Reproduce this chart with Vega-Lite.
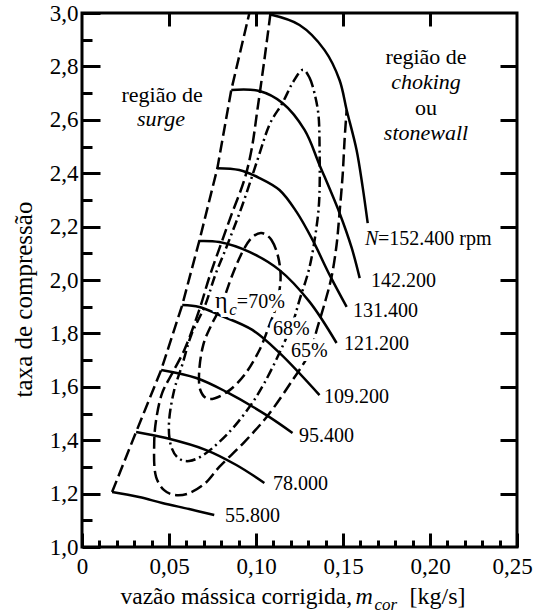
{
"$schema": "https://vega.github.io/schema/vega-lite/v6.json",
"width": 435, "height": 534,
"autosize": {"type": "none"},
"padding": {"left": 82, "top": 13, "right": 19, "bottom": 68},
"background": "white",
"config": {
  "view": {"stroke": "black", "strokeWidth": 3},
  "axis": {"grid": false, "domain": false, "tickColor": "black", "tickWidth": 3, "labelColor": "black", "titleColor": "black", "labelFont": "Liberation Serif", "titleFont": "Liberation Serif", "titleFontWeight": "normal", "labelFontSize": 23, "titleFontSize": 24, "labelOverlap": false, "labelFlush": false}
},
"datasets": {
  "speeds": [
    {"s":"55.800","i":0,"x":0.0173,"y":1.206},{"s":"55.800","i":1,"x":0.0328,"y":1.187},{"s":"55.800","i":2,"x":0.0461,"y":1.165},{"s":"55.800","i":3,"x":0.0616,"y":1.142},{"s":"55.800","i":4,"x":0.0760,"y":1.120},
    {"s":"78.000","i":0,"x":0.0311,"y":1.431},{"s":"78.000","i":1,"x":0.0484,"y":1.408},{"s":"78.000","i":2,"x":0.0714,"y":1.363},{"s":"78.000","i":3,"x":0.0887,"y":1.307},{"s":"78.000","i":4,"x":0.1048,"y":1.240},
    {"s":"95.400","i":0,"x":0.0455,"y":1.663},{"s":"95.400","i":1,"x":0.0657,"y":1.633},{"s":"95.400","i":2,"x":0.0830,"y":1.581},{"s":"95.400","i":3,"x":0.1060,"y":1.494},{"s":"95.400","i":4,"x":0.1210,"y":1.427},
    {"s":"109.200","i":0,"x":0.0576,"y":1.906},{"s":"109.200","i":1,"x":0.0674,"y":1.899},{"s":"109.200","i":2,"x":0.0789,"y":1.869},{"s":"109.200","i":3,"x":0.0979,"y":1.813},{"s":"109.200","i":4,"x":0.1135,"y":1.727},{"s":"109.200","i":5,"x":0.1365,"y":1.569},
    {"s":"121.200","i":0,"x":0.0674,"y":2.146},{"s":"121.200","i":1,"x":0.0789,"y":2.142},{"s":"121.200","i":2,"x":0.0962,"y":2.105},{"s":"121.200","i":3,"x":0.1135,"y":2.037},{"s":"121.200","i":4,"x":0.1308,"y":1.918},{"s":"121.200","i":5,"x":0.1463,"y":1.764},
    {"s":"131.400","i":0,"x":0.0778,"y":2.419},{"s":"131.400","i":1,"x":0.0904,"y":2.412},{"s":"131.400","i":2,"x":0.1020,"y":2.382},{"s":"131.400","i":3,"x":0.1135,"y":2.337},{"s":"131.400","i":4,"x":0.1233,"y":2.255},{"s":"131.400","i":5,"x":0.1325,"y":2.150},{"s":"131.400","i":6,"x":0.1423,"y":2.019},{"s":"131.400","i":7,"x":0.1521,"y":1.899},
    {"s":"142.200","i":0,"x":0.0858,"y":2.712},{"s":"142.200","i":1,"x":0.1020,"y":2.708},{"s":"142.200","i":2,"x":0.1152,"y":2.663},{"s":"142.200","i":3,"x":0.1279,"y":2.562},{"s":"142.200","i":4,"x":0.1365,"y":2.431},{"s":"142.200","i":5,"x":0.1480,"y":2.251},{"s":"142.200","i":6,"x":0.1550,"y":2.120},{"s":"142.200","i":7,"x":0.1596,"y":2.007},
    {"s":"152.400","i":0,"x":0.1077,"y":2.995},{"s":"152.400","i":1,"x":0.1250,"y":2.955},{"s":"152.400","i":2,"x":0.1394,"y":2.861},{"s":"152.400","i":3,"x":0.1480,"y":2.749},{"s":"152.400","i":4,"x":0.1521,"y":2.637},{"s":"152.400","i":5,"x":0.1578,"y":2.487},{"s":"152.400","i":6,"x":0.1613,"y":2.348},{"s":"152.400","i":7,"x":0.1642,"y":2.213}
  ],
  "surge": [
    {"i":0,"x":0.0173,"y":1.206},{"i":1,"x":0.0311,"y":1.431},{"i":2,"x":0.0455,"y":1.663},{"i":3,"x":0.0576,"y":1.906},{"i":4,"x":0.0674,"y":2.146},{"i":5,"x":0.0778,"y":2.419},{"i":6,"x":0.0858,"y":2.712},{"i":7,"x":0.0962,"y":3.0}
  ],
  "e65": [
    {"i":0,"x":0.1083,"y":2.998},{"i":1,"x":0.1048,"y":2.824},{"i":2,"x":0.1008,"y":2.637},{"i":3,"x":0.0974,"y":2.487},{"i":4,"x":0.0933,"y":2.375},{"i":5,"x":0.0858,"y":2.243},{"i":6,"x":0.0801,"y":2.139},{"i":7,"x":0.0732,"y":2.011},{"i":8,"x":0.0674,"y":1.888},{"i":9,"x":0.0588,"y":1.738},{"i":10,"x":0.0513,"y":1.644},{"i":11,"x":0.0461,"y":1.577},{"i":12,"x":0.0426,"y":1.476},{"i":13,"x":0.0415,"y":1.390},{"i":14,"x":0.0426,"y":1.262},{"i":15,"x":0.0472,"y":1.213},{"i":16,"x":0.0530,"y":1.195},{"i":17,"x":0.0605,"y":1.199},{"i":18,"x":0.0703,"y":1.236},{"i":19,"x":0.0789,"y":1.300},{"i":20,"x":0.0933,"y":1.393},{"i":21,"x":0.1066,"y":1.491},{"i":22,"x":0.1210,"y":1.625},{"i":23,"x":0.1308,"y":1.727},{"i":24,"x":0.1354,"y":1.824},{"i":25,"x":0.1400,"y":1.925},{"i":26,"x":0.1434,"y":2.011},{"i":27,"x":0.1463,"y":2.131},{"i":28,"x":0.1480,"y":2.251},{"i":29,"x":0.1498,"y":2.393},{"i":30,"x":0.1509,"y":2.524},{"i":31,"x":0.1521,"y":2.637}
  ],
  "e68": [
    {"i":0,"x":0.1267,"y":2.787},{"i":1,"x":0.1308,"y":2.757},{"i":2,"x":0.1336,"y":2.700},{"i":3,"x":0.1359,"y":2.618},{"i":4,"x":0.1365,"y":2.513},{"i":5,"x":0.1365,"y":2.326},{"i":6,"x":0.1348,"y":2.199},{"i":7,"x":0.1308,"y":2.049},{"i":8,"x":0.1250,"y":1.925},{"i":9,"x":0.1210,"y":1.839},{"i":10,"x":0.1135,"y":1.727},{"i":11,"x":0.1048,"y":1.614},{"i":12,"x":0.0962,"y":1.524},{"i":13,"x":0.0847,"y":1.431},{"i":14,"x":0.0714,"y":1.352},{"i":15,"x":0.0616,"y":1.322},{"i":16,"x":0.0547,"y":1.337},{"i":17,"x":0.0507,"y":1.390},{"i":18,"x":0.0501,"y":1.476},{"i":19,"x":0.0530,"y":1.588},{"i":20,"x":0.0576,"y":1.682},{"i":21,"x":0.0628,"y":1.794},{"i":22,"x":0.0708,"y":1.906},{"i":23,"x":0.0766,"y":2.019},{"i":24,"x":0.0835,"y":2.131},{"i":25,"x":0.0922,"y":2.281},{"i":26,"x":0.1008,"y":2.449},{"i":27,"x":0.1077,"y":2.581},{"i":28,"x":0.1152,"y":2.663},{"i":29,"x":0.1210,"y":2.738}
  ],
  "e70": [
    {"i":0,"x":0.1031,"y":2.176},{"i":1,"x":0.1089,"y":2.150},{"i":2,"x":0.1129,"y":2.082},{"i":3,"x":0.1141,"y":2.000},{"i":4,"x":0.1118,"y":1.906},{"i":5,"x":0.1077,"y":1.831},{"i":6,"x":0.1020,"y":1.738},{"i":7,"x":0.0933,"y":1.644},{"i":8,"x":0.0835,"y":1.581},{"i":9,"x":0.0732,"y":1.554},{"i":10,"x":0.0680,"y":1.588},{"i":11,"x":0.0674,"y":1.663},{"i":12,"x":0.0697,"y":1.757},{"i":13,"x":0.0743,"y":1.831},{"i":14,"x":0.0801,"y":1.906},{"i":15,"x":0.0864,"y":2.019},{"i":16,"x":0.0922,"y":2.105},{"i":17,"x":0.0974,"y":2.157}
  ],
  "labels": [
    {"t":"=152.400 rpm","x":0.1701,"y":2.131},
    {"t":"142.200","x":0.1661,"y":1.974},
    {"t":"131.400","x":0.1557,"y":1.861},
    {"t":"121.200","x":0.1506,"y":1.738},
    {"t":"109.200","x":0.1391,"y":1.539},
    {"t":"95.400","x":0.1247,"y":1.393},
    {"t":"78.000","x":0.1098,"y":1.213},
    {"t":"55.800","x":0.0822,"y":1.094},
    {"t":"68%","x":0.1098,"y":1.794},
    {"t":"65%","x":0.1201,"y":1.712},
    {"t":"=70%","x":0.0890,"y":1.895}
  ],
  "eta": [{"t":"η","x":0.0764,"y":1.895}],
  "labelsIt": [{"t":"N","x":0.1626,"y":2.131}],
  "sub": [{"t":"c","x":0.0846,"y":1.869}],
  "annot": [
    {"t":"região de","x":0.0460,"y":2.667},
    {"t":"região de","x":0.1977,"y":2.808},
    {"t":"ou","x":0.1977,"y":2.618}
  ],
  "annotIt": [
    {"t":"surge","x":0.0454,"y":2.578},
    {"t":"choking","x":0.1977,"y":2.716},
    {"t":"stonewall","x":0.1977,"y":2.524}
  ]
},
"layer": [
  {
    "data": {"name": "speeds"},
    "mark": {"type": "line", "interpolate": "catmull-rom", "color": "black", "strokeWidth": 2.5},
    "encoding": {
      "x": {"field": "x", "type": "quantitative", "scale": {"domain": [0, 0.25], "nice": false, "zero": false},
        "axis": {"orient": "bottom", "values": [0, 0.05, 0.1, 0.15, 0.2, 0.25], "tickSize": -14, "labelPadding": 22, "labelOffset": {"condition": {"test": "datum.value > 0.24", "value": -5}, "value": 0}, "labelExpr": "datum.value == 0 ? '0' : replace(format(datum.value, '.2f'), '.', ',')", "title": "vazão mássica corrigida,", "titleFontSize": 23.5, "titleX": 38, "titleY": 56, "titleAlign": "left", "titleBaseline": "alphabetic", "titleAngle": 0}},
      "y": {"field": "y", "type": "quantitative", "scale": {"domain": [1, 3], "nice": false, "zero": false},
        "axis": {"orient": "left", "values": [1, 1.2, 1.4, 1.6, 1.8, 2, 2.2, 2.4, 2.6, 2.8, 3], "tickSize": -18, "labelPadding": 22, "labelExpr": "replace(format(datum.value, '.1f'), '.', ',')", "title": "taxa de compressão", "titleFontSize": 25, "titleX": -51, "titleY": 286, "titleAngle": -90, "titleAlign": "center", "titleBaseline": "alphabetic"}},
      "detail": {"field": "s"},
      "order": {"field": "i"}
    }
  },
  {
    "data": {"name": "surge"},
    "mark": {"type": "line", "color": "black", "strokeWidth": 2.5, "strokeDash": [12, 5]},
    "encoding": {
      "x": {"field": "x", "type": "quantitative", "scale": {"domain": [0, 0.25], "nice": false, "zero": false},
        "axis": {"orient": "bottom", "values": [0.01,0.02,0.03,0.04,0.06,0.07,0.08,0.09,0.11,0.12,0.13,0.14,0.16,0.17,0.18,0.19,0.21,0.22,0.23,0.24], "tickSize": -7, "labels": false, "title": "m", "titleFontSize": 24, "titleFontStyle": "italic", "titleX": 273, "titleY": 56, "titleAlign": "left", "titleBaseline": "alphabetic", "titleAngle": 0}},
      "y": {"field": "y", "type": "quantitative", "scale": {"domain": [1, 3], "nice": false, "zero": false},
        "axis": {"orient": "left", "values": [1.1,1.3,1.5,1.7,1.9,2.1,2.3,2.5,2.7,2.9], "tickSize": -10, "labels": false, "title": null}},
      "order": {"field": "i"}
    }
  },
  {
    "data": {"name": "e65"},
    "mark": {"type": "line", "interpolate": "catmull-rom", "color": "black", "strokeWidth": 2.5, "strokeDash": [12, 5]},
    "encoding": {
      "x": {"field": "x", "type": "quantitative", "scale": {"domain": [0, 0.25], "nice": false, "zero": false},
        "axis": {"orient": "top", "values": [0.05, 0.1, 0.15, 0.2], "tickSize": -13, "labels": false, "title": null}},
      "y": {"field": "y", "type": "quantitative", "scale": {"domain": [1, 3], "nice": false, "zero": false},
        "axis": {"orient": "right", "values": [1.2,1.4,1.6,1.8,2,2.2,2.4,2.6,2.8], "tickSize": -17, "labels": false, "title": null}},
      "order": {"field": "i"}
    }
  },
  {
    "data": {"name": "e70"},
    "mark": {"type": "line", "interpolate": "cardinal-closed", "color": "black", "strokeWidth": 2.5, "strokeDash": [11, 5]},
    "encoding": {
      "x": {"field": "x", "type": "quantitative", "scale": {"domain": [0, 0.25], "nice": false, "zero": false},
        "axis": {"orient": "bottom", "ticks": false, "labels": false, "title": "cor", "titleFontStyle": "italic", "titleFontSize": 17, "titleX": 292, "titleY": 62, "titleAlign": "left", "titleBaseline": "alphabetic", "titleAngle": 0}},
      "y": {"field": "y", "type": "quantitative", "scale": {"domain": [1, 3], "nice": false, "zero": false}, "axis": null},
      "order": {"field": "i"}
    }
  },
  {
    "data": {"name": "e68"},
    "mark": {"type": "line", "interpolate": "cardinal-closed", "color": "black", "strokeWidth": 2.5, "strokeDash": [10, 4, 2, 4]},
    "encoding": {
      "x": {"field": "x", "type": "quantitative", "scale": {"domain": [0, 0.25], "nice": false, "zero": false},
        "axis": {"orient": "bottom", "ticks": false, "labels": false, "title": "[kg/s]", "titleFontSize": 24, "titleX": 327, "titleY": 56, "titleAlign": "left", "titleBaseline": "alphabetic", "titleAngle": 0}},
      "y": {"field": "y", "type": "quantitative", "scale": {"domain": [1, 3], "nice": false, "zero": false}, "axis": null},
      "order": {"field": "i"}
    }
  },
  {
    "data": {"name": "labels"},
    "transform": [{"filter": "indexof(['68%','65%','=70%'], datum.t) >= 0"}],
    "mark": {"type": "text", "align": "left", "baseline": "alphabetic", "fontSize": 20, "font": "Liberation Serif", "fill": "white", "stroke": "white", "strokeWidth": 8},
    "encoding": {
      "x": {"field": "x", "type": "quantitative", "axis": null},
      "y": {"field": "y", "type": "quantitative", "axis": null},
      "text": {"field": "t"}
    }
  },
  {
    "data": {"name": "eta"},
    "mark": {"type": "text", "align": "left", "baseline": "alphabetic", "fontSize": 24, "font": "Liberation Serif", "fill": "white", "stroke": "white", "strokeWidth": 8},
    "encoding": {
      "x": {"field": "x", "type": "quantitative", "axis": null},
      "y": {"field": "y", "type": "quantitative", "axis": null},
      "text": {"field": "t"}
    }
  },
  {
    "data": {"name": "sub"},
    "mark": {"type": "text", "align": "left", "baseline": "alphabetic", "fontSize": 17, "font": "Liberation Serif", "fontStyle": "italic", "fill": "white", "stroke": "white", "strokeWidth": 8},
    "encoding": {
      "x": {"field": "x", "type": "quantitative", "axis": null},
      "y": {"field": "y", "type": "quantitative", "axis": null},
      "text": {"field": "t"}
    }
  },
  {
    "data": {"name": "labels"},
    "mark": {"type": "text", "align": "left", "baseline": "alphabetic", "fontSize": 20, "font": "Liberation Serif", "color": "black"},
    "encoding": {
      "x": {"field": "x", "type": "quantitative", "axis": null},
      "y": {"field": "y", "type": "quantitative", "axis": null},
      "text": {"field": "t"}
    }
  },
  {
    "data": {"name": "eta"},
    "mark": {"type": "text", "align": "left", "baseline": "alphabetic", "fontSize": 24, "font": "Liberation Serif", "color": "black"},
    "encoding": {
      "x": {"field": "x", "type": "quantitative", "axis": null},
      "y": {"field": "y", "type": "quantitative", "axis": null},
      "text": {"field": "t"}
    }
  },
  {
    "data": {"name": "labelsIt"},
    "mark": {"type": "text", "align": "left", "baseline": "alphabetic", "fontSize": 20, "font": "Liberation Serif", "fontStyle": "italic", "color": "black"},
    "encoding": {
      "x": {"field": "x", "type": "quantitative", "axis": null},
      "y": {"field": "y", "type": "quantitative", "axis": null},
      "text": {"field": "t"}
    }
  },
  {
    "data": {"name": "sub"},
    "mark": {"type": "text", "align": "left", "baseline": "alphabetic", "fontSize": 17, "font": "Liberation Serif", "fontStyle": "italic", "color": "black"},
    "encoding": {
      "x": {"field": "x", "type": "quantitative", "axis": null},
      "y": {"field": "y", "type": "quantitative", "axis": null},
      "text": {"field": "t"}
    }
  },
  {
    "data": {"name": "annot"},
    "mark": {"type": "text", "align": "center", "baseline": "alphabetic", "fontSize": 22, "font": "Liberation Serif", "color": "black"},
    "encoding": {
      "x": {"field": "x", "type": "quantitative", "axis": null},
      "y": {"field": "y", "type": "quantitative", "axis": null},
      "text": {"field": "t"}
    }
  },
  {
    "data": {"name": "annotIt"},
    "mark": {"type": "text", "align": "center", "baseline": "alphabetic", "fontSize": 22, "font": "Liberation Serif", "fontStyle": "italic", "color": "black"},
    "encoding": {
      "x": {"field": "x", "type": "quantitative", "axis": null},
      "y": {"field": "y", "type": "quantitative", "axis": null},
      "text": {"field": "t"}
    }
  }
],
"resolve": {"axis": {"x": "independent", "y": "independent"}}
}
